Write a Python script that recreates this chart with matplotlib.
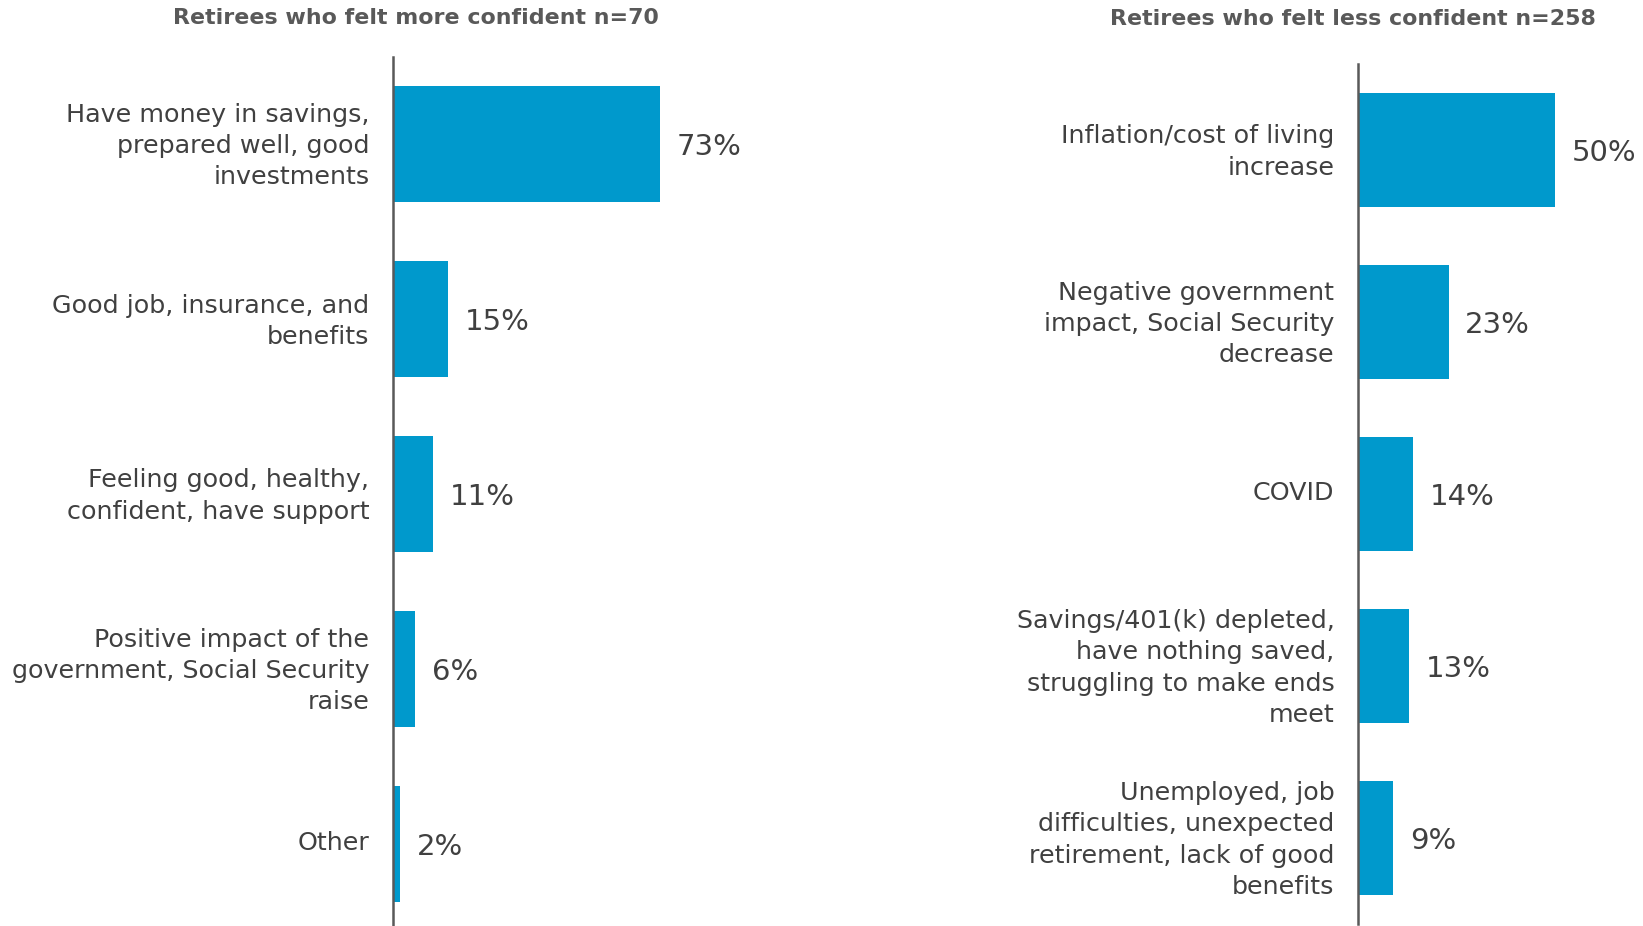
import matplotlib.pyplot as plt
from matplotlib.transforms import ScaledTranslation

# data
more_labels = [
    "Have money in savings,\nprepared well, good\ninvestments",
    "Good job, insurance, and\nbenefits",
    "Feeling good, healthy,\nconfident, have support",
    "Positive impact of the\ngovernment, Social Security\nraise",
    "Other",
]
more_values = [73, 15, 11, 6, 2]

less_labels = [
    "Inflation/cost of living\nincrease",
    "Negative government\nimpact, Social Security\ndecrease",
    "COVID",
    "Savings/401(k) depleted,\nhave nothing saved,\nstruggling to make ends\nmeet",
    "Unemployed, job\ndifficulties, unexpected\nretirement, lack of good\nbenefits",
]
less_values = [50, 23, 14, 13, 9]

BAR = "#0099CC"
TXT = "#404040"
W, H = 1643, 926

fig = plt.figure(figsize=(W / 100, H / 100), dpi=100)

def panel(rect, labels, values, xmax, title, title_xy):
    ax = fig.add_axes(rect)
    y = list(range(len(values)))
    ax.barh(y, values, height=0.66, color=BAR)
    ax.set_ylim(len(values) - 0.5, -0.5)
    ax.set_xlim(0, xmax)
    for s in ["top", "right", "bottom"]:
        ax.spines[s].set_visible(False)
    ax.spines["left"].set_color("#595959")
    ax.spines["left"].set_linewidth(1.8)
    ax.set_xticks([])
    ax.set_yticks(y)
    ax.set_yticklabels(labels, fontsize=18.3, color=TXT, linespacing=1.38)
    ax.tick_params(axis="y", length=0, pad=17)
    # nudge labels up a little
    shift = ScaledTranslation(0, 0.04, fig.dpi_scale_trans)
    for lab in ax.get_yticklabels():
        lab.set_transform(lab.get_transform() + shift)
    for yi, v in zip(y, values):
        ax.annotate(f"{v}%", (v, yi), xytext=(12, -2), textcoords="offset points",
                    va="center", ha="left", fontsize=21, color=TXT)
    fig.text(title_xy[0] / W, 1 - title_xy[1] / H, title, ha="center", va="center",
             fontsize=15.9, fontweight="bold", color="#595959")
    return ax

# left panel: axis x=393, 3.66 px per %, top 57, 175 px per row
panel([393 / W, (926 - 931.5) / H, 366 / W, 875 / H], more_labels, more_values, 100,
      "Retirees who felt more confident n=70", (416, 18))
# right panel: axis x=1358, 3.94 px per %, top 64, 172 px per row
panel([1358 / W, (926 - 924) / H, 276 / W, 860 / H], less_labels, less_values, 70,
      "Retirees who felt less confident n=258", (1353, 19))

fig.savefig("out.png", dpi=100)
